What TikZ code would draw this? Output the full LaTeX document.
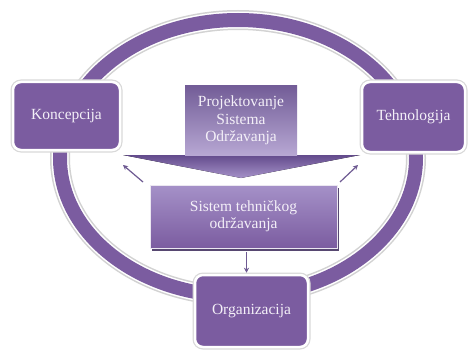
\documentclass[tikz,border=0pt]{standalone}
\usepackage{fontspec}
\setmainfont{Liberation Serif}
\usetikzlibrary{arrows.meta,shadows,calc}
\definecolor{pur}{HTML}{7B5CA0}
\definecolor{purlight}{HTML}{A591C8}
\definecolor{purdark}{HTML}{634B8C}
\definecolor{txt}{HTML}{F4F0F8}
\definecolor{arr}{HTML}{6E5A92}
\begin{document}
\begin{tikzpicture}[x=1pt,y=-1pt,
  lbl/.style={text=txt, font=\fontsize{15.5}{17.5}\selectfont, align=center, inner sep=0pt},
  box/.style={lbl, rounded corners=8pt, fill=pur, draw=white, line width=2.5pt,
    preaction={draw=gray!30, line width=5pt}},
  conn/.style={draw=arr, line width=1.2pt, -{Stealth[length=5pt,width=5pt]}}]
\useasboundingbox[fill=white] (0,0) rectangle (468,350);
% ring
\draw[gray!35, line width=20pt] (238,158) ellipse [x radius=178pt, y radius=138pt];
\draw[white, line width=17pt] (238,158) ellipse [x radius=178pt, y radius=138pt];
\draw[pur, line width=14pt] (238,158) ellipse [x radius=178pt, y radius=138pt];
% big arrow
\coordinate (hl) at (123,155);
\coordinate (hr) at (360,155);
\coordinate (ht) at (241,178);
\fill[top color=purdark, bottom color=purlight] (hl) -- (hr) -- (ht) -- cycle;
\node[lbl, minimum width=112pt, minimum height=69pt, top color=purdark!90, bottom color=purlight!80!white]
  (proj) at (241,120.5) {Projektovanje\\Sistema\\Održavanja};
% boxes
\node[box, minimum width=107pt, minimum height=68pt] (kon) at (66.5,116) {Koncepcija};
\node[box, minimum width=103pt, minimum height=70pt] (teh) at (413.5,117) {Tehnologija};
\node[box, minimum width=113pt, minimum height=72pt] (org) at (251.5,311) {Organizacija};
\node[lbl, minimum width=187pt, minimum height=63pt, top color=purlight, bottom color=pur,
  draw=white!85!pur, line width=0.8pt,
  drop shadow={shadow xshift=2pt, shadow yshift=-3pt, fill=purdark!70!black, opacity=0.9}]
  (sis) at (243.5,216.5) {Sistem tehničkog\\održavanja};
% connectors
\coordinate (la) at (143,182);
\coordinate (lb) at (123,165);
\coordinate (ra) at (340,182);
\coordinate (rb) at (358,165);
\draw[conn] (la) -- (lb);
\draw[conn] (ra) -- (rb);
\draw[conn, shorten <=4pt, shorten >=1pt] ([xshift=3pt]sis.south) -- ([xshift=3pt]sis.south |- org.north);
\end{tikzpicture}
\end{document}
